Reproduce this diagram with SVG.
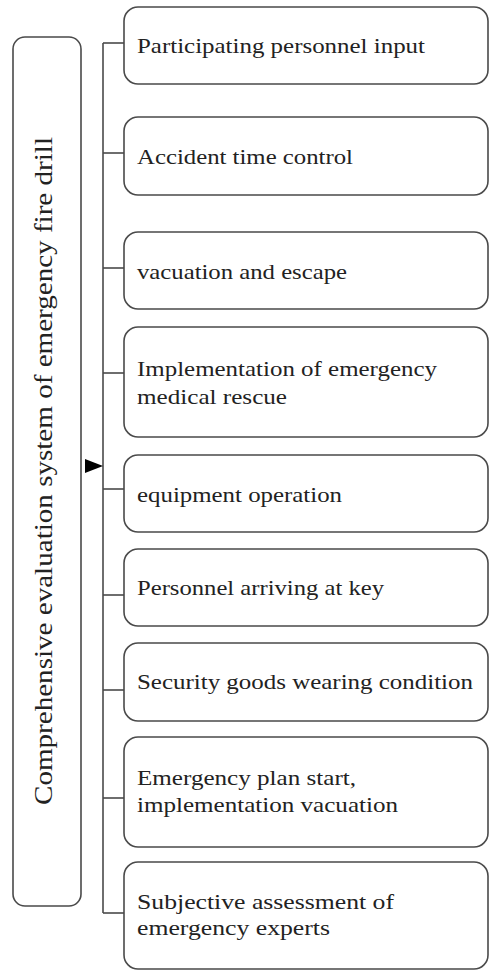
<svg xmlns="http://www.w3.org/2000/svg" width="489" height="971" viewBox="0 0 489 971">
<style>
.box{fill:#fff;stroke:#4a4a4a;stroke-width:1.6}
.lbl{font-family:'Liberation Serif','DejaVu Serif',serif;font-size:22px;fill:#222}
.main{font-family:'Liberation Serif','DejaVu Serif',serif;font-size:26px;fill:#222}
.con{stroke:#4a4a4a;stroke-width:1.6;fill:none}
</style>
<rect width="489" height="971" fill="#fff"/>
<g id="root">
<rect class="box" x="13" y="37" width="68" height="869" rx="12"/>
<text class="main" transform="translate(52,471) rotate(-90)" text-anchor="middle" textLength="668" lengthAdjust="spacingAndGlyphs">Comprehensive evaluation system of emergency fire drill</text>
</g>
<g id="connectors">
<line class="con" x1="103" y1="43" x2="103" y2="913"/>
<line class="con" x1="103" y1="43" x2="124" y2="43"/>
<line class="con" x1="103" y1="153" x2="124" y2="153"/>
<line class="con" x1="103" y1="268" x2="124" y2="268"/>
<line class="con" x1="103" y1="373" x2="124" y2="373"/>
<line class="con" x1="103" y1="489" x2="124" y2="489"/>
<line class="con" x1="103" y1="595" x2="124" y2="595"/>
<line class="con" x1="103" y1="690" x2="124" y2="690"/>
<line class="con" x1="103" y1="798" x2="124" y2="798"/>
<line class="con" x1="103" y1="913" x2="124" y2="913"/>
<polygon points="85,459 103,466 85,473" fill="#000"/>
</g>
<g id="n1">
<rect class="box" x="124" y="7" width="364" height="77" rx="14"/>
<text class="lbl" x="137" y="53" textLength="288" lengthAdjust="spacingAndGlyphs">Participating personnel input</text>
</g>
<g id="n2">
<rect class="box" x="124" y="117" width="364" height="78" rx="14"/>
<text class="lbl" x="137" y="164" textLength="216" lengthAdjust="spacingAndGlyphs">Accident time control</text>
</g>
<g id="n3">
<rect class="box" x="124" y="232" width="364" height="77" rx="14"/>
<text class="lbl" x="137" y="279" textLength="210" lengthAdjust="spacingAndGlyphs">vacuation and escape</text>
</g>
<g id="n4">
<rect class="box" x="124" y="327" width="364" height="110" rx="14"/>
<text class="lbl" x="137" y="376" textLength="300" lengthAdjust="spacingAndGlyphs">Implementation of emergency</text>
<text class="lbl" x="137" y="404" textLength="150" lengthAdjust="spacingAndGlyphs">medical rescue</text>
</g>
<g id="n5">
<rect class="box" x="124" y="455" width="364" height="77" rx="14"/>
<text class="lbl" x="137" y="502" textLength="205" lengthAdjust="spacingAndGlyphs">equipment operation</text>
</g>
<g id="n6">
<rect class="box" x="124" y="549" width="364" height="77" rx="14"/>
<text class="lbl" x="137" y="595" textLength="247" lengthAdjust="spacingAndGlyphs">Personnel arriving at key</text>
</g>
<g id="n7">
<rect class="box" x="124" y="643" width="364" height="78" rx="14"/>
<text class="lbl" x="137" y="689" textLength="336" lengthAdjust="spacingAndGlyphs">Security goods wearing condition</text>
</g>
<g id="n8">
<rect class="box" x="124" y="737" width="364" height="110" rx="14"/>
<text class="lbl" x="137" y="785" textLength="219" lengthAdjust="spacingAndGlyphs">Emergency plan start,</text>
<text class="lbl" x="137" y="812" textLength="261" lengthAdjust="spacingAndGlyphs">implementation vacuation</text>
</g>
<g id="n9">
<rect class="box" x="124" y="862" width="364" height="107" rx="14"/>
<text class="lbl" x="137" y="909" textLength="257" lengthAdjust="spacingAndGlyphs">Subjective assessment of</text>
<text class="lbl" x="137" y="935" textLength="193" lengthAdjust="spacingAndGlyphs">emergency experts</text>
</g>
</svg>
